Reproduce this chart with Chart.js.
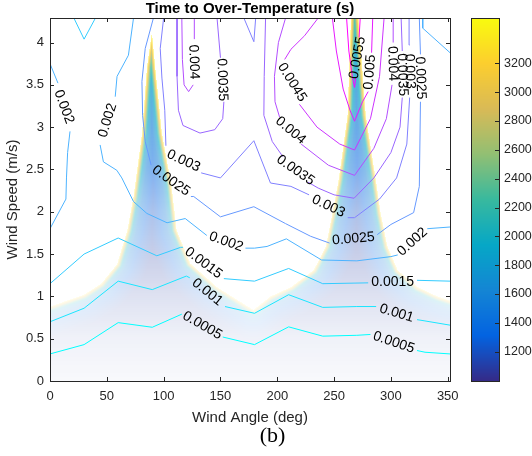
<!DOCTYPE html>
<html>
<head>
<meta charset="utf-8">
<script src="https://cdn.jsdelivr.net/npm/chart.js@4.4.1/dist/chart.umd.min.js"></script>
<style>
  html, body { margin: 0; padding: 0; background: #fff; }
</style>
</head>
<body>
<canvas id="chart" width="532" height="456"></canvas>
<script>
// axis ranges and ticks
const ANGLE_MAX = 352
const SPEED_MAX = 4.29
const ANGLE_TICKS = [0, 50, 100, 150, 200, 250, 300, 350]
const SPEED_TICKS = [0, 0.5, 1, 1.5, 2, 2.5, 3, 3.5, 4]
const TIME_MIN = 997
const TIME_MAX = 3514
const TIME_TICKS = [1200, 1400, 1600, 1800, 2000, 2200, 2400, 2600, 2800, 3000, 3200]

// edge of the finite time region: wind speed below which over-temperature is reached
const EDGE_ANGLE = [0, 30, 45, 59, 68, 73.5, 81, 85.3, 89.7, 92.6, 98.5, 107, 111.5, 123.5, 147, 179, 194, 212, 232, 242.6, 248.5, 254, 261.8, 264.7, 268, 271.7, 277.9, 286.7, 291, 297, 306, 323.5, 341, 352]
const EDGE_SPEED = [0.88, 1.02, 1.15, 1.38, 1.78, 2.18, 2.93, 3.71, 4.12, 3.71, 2.93, 2.3, 1.78, 1.39, 1.11, 0.84, 1.0, 1.11, 1.31, 1.59, 1.98, 2.38, 3.14, 4.25, 5.0, 4.25, 3.14, 2.38, 1.98, 1.59, 1.31, 1.11, 1.0, 0.95]

// time (s) versus pixel distance inside the edge, and opacity versus wind speed
const DEPTH_PX = [0, 1.5, 3, 5, 9, 16, 30]
const DEPTH_TIME = [3450, 3100, 2500, 1900, 1550, 1300, 1100]
const ALPHA_SPEED = [0, 0.5, 1, 1.5, 2, 2.5, 3, 3.5, 4.3]
const ALPHA = [0.03, 0.07, 0.15, 0.25, 0.35, 0.5, 0.62, 0.72, 0.85]

// contour segments, [angle, speed] pairs; gaps are where the labels sit
const LINE_0005 = [
  [[0, 0.32], [30, 0.43], [60, 0.69], [90, 0.635], [116, 0.79]],
  [[152, 0.52], [180, 0.43], [210, 0.64], [240, 0.53], [270, 0.54], [282, 0.55]],
  [[323, 0.36], [330, 0.34], [352, 0.32]]
]
const LINE_0010 = [
  [[0, 0.70], [30, 0.86], [60, 1.18], [90, 1.08], [120, 1.24], [123, 1.22]],
  [[154, 0.88], [180, 0.80], [210, 1.02], [240, 0.87], [270, 0.88], [287, 0.88]],
  [[323, 0.725], [330, 0.71], [352, 0.66]]
]
const LINE_0015 = [
  [[0, 1.15], [30, 1.50], [60, 1.69], [94, 1.48], [115, 1.58], [117, 1.58]],
  [[153, 1.21], [180, 1.18], [210, 1.33], [240, 1.15], [280, 1.16]],
  [[323, 1.19], [352, 1.18]],
  [[21, 4.29], [30, 4.04], [40, 4.29]]
]
const LINE_0020 = [
  [[0, 3.75], [7, 3.52]],
  [[17.6, 2.95], [15.5, 2.7], [14.5, 2.4], [14, 2.15], [0, 1.80]],
  [[73.5, 4.29], [69, 3.85], [59, 3.6], [57.4, 3.36]],
  [[44.1, 2.79], [47, 2.59], [58.8, 2.49], [63.2, 2.40], [73.5, 2.12], [85.3, 1.98], [103, 1.87], [119, 1.92], [138, 1.72]],
  [[172, 1.57], [180, 1.57], [191, 1.59], [208, 1.68], [239, 1.43], [270, 1.42], [300, 1.47], [306, 1.49]],
  [[332, 1.80], [352, 1.82]],
  [[328, 4.29], [328, 4.17], [352, 3.88]]
]
const LINE_0025 = [
  [[91, 4.29], [83.8, 3.93], [80.9, 3.54], [81.5, 3.14], [83.8, 2.83], [89, 2.55]],
  [[124, 2.18], [126.5, 2.18], [150, 1.94], [179.4, 2.06], [207.3, 1.86], [229.4, 1.71], [246, 1.63]],
  [[288, 1.73], [300, 1.85], [320, 1.99], [325, 2.3], [326, 3.3]],
  [[326, 3.86], [325, 4.29]]
]
const LINE_0030 = [
  [[100, 4.29], [97, 3.93], [98.5, 3.58], [101, 3.2], [102, 2.78]],
  [[133, 2.46], [150, 2.40], [179.4, 2.84], [194, 2.34], [212, 2.30], [228, 2.20]],
  [[262, 1.93], [268, 1.93], [290, 2.15], [305, 2.4], [314, 2.8], [316.5, 3.35]],
  [[316.5, 3.97], [316, 4.29]],
  [[170.6, 4.29], [179.4, 4.01], [181, 4.29]]
]
const LINE_0035 = [
  [[111.8, 4.29], [111.8, 3.6], [113, 3.2], [117, 3.02], [132, 2.93], [145, 2.97], [152, 3.1], [153, 3.3]],
  [[150, 3.82], [147, 4.29]],
  [[189.7, 4.29], [188.5, 3.6], [188.2, 3.14], [195.6, 2.83], [205, 2.65]],
  [[227, 2.35], [236, 2.28], [250, 2.2], [267.6, 2.16], [285, 2.4], [300, 2.7], [308, 3.0], [310, 3.35]],
  [[310, 3.9], [309, 4.29]]
]
const LINE_0040 = [
  [[116, 4.29], [116.5, 3.8], [118, 3.5], [122, 3.42], [126, 3.5]],
  [[127, 4.04], [127, 4.29]],
  [[207.3, 4.29], [201, 4.0], [197.5, 3.6], [198, 3.3], [202, 3.12]],
  [[221, 2.80], [245, 2.55], [268, 2.43], [285, 2.75], [296, 3.1], [301, 3.5]],
  [[302, 4.0], [302, 4.29]]
]
const LINE_0045 = [
  [[236, 4.29], [224, 4.08], [212, 3.92], [206.5, 3.8]],
  [[219.5, 3.27], [235, 3.0], [255, 2.8], [268, 2.73], [282, 3.1], [290, 3.6], [294, 4.29]]
]
const LINE_0050 = [
  [[248.5, 4.29], [252, 3.9], [258, 3.45], [264, 3.2], [268, 3.07], [275, 3.3], [280, 3.42]],
  [[283, 3.88], [284, 4.29]]
]
const LINE_0055 = [
  [[261, 4.29], [263, 3.9], [266, 3.6], [268, 3.47], [269, 3.58]],
  [[272, 4.06], [273, 4.29]]
]

// contour labels: text, angle, speed, rotation (deg)
const LABELS = [
  ['0.0005', 134, 0.655, 30], ['0.0005', 302.5, 0.455, 19],
  ['0.001', 138.5, 1.05, 39], ['0.001', 305, 0.80, 17],
  ['0.0015', 135, 1.395, 37], ['0.0015', 301.5, 1.17, 0],
  ['0.002', 12.3, 3.24, 70], ['0.002', 50.7, 3.08, -73], ['0.002', 155, 1.645, 20], ['0.002', 319, 1.645, -42],
  ['0.0025', 106.5, 2.365, 35], ['0.0025', 267, 1.68, -5], ['0.0025', 326, 3.58, 88],
  ['0.003', 117.5, 2.6, 25], ['0.003', 245, 2.065, 25], ['0.003', 316.5, 3.66, 88],
  ['0.0035', 151.5, 3.56, 88], ['0.0035', 216, 2.49, 35], ['0.0035', 310, 3.62, 88],
  ['0.004', 126.5, 3.77, 88], ['0.004', 211.7, 2.96, 40], ['0.004', 301.5, 3.75, 88],
  ['0.0045', 213, 3.53, 58],
  ['0.005', 281.5, 3.65, -85],
  ['0.0055', 270.6, 3.82, -80]
]

const CONTOURS = [
  [0.0005, LINE_0005], [0.001, LINE_0010], [0.0015, LINE_0015], [0.002, LINE_0020],
  [0.0025, LINE_0025], [0.003, LINE_0030], [0.0035, LINE_0035], [0.004, LINE_0040],
  [0.0045, LINE_0045], [0.005, LINE_0050], [0.0055, LINE_0055]
]

var AXIS = '#262626'
var FONT = "'Liberation Sans', Arial, sans-serif"

// parula colour stops
var PARULA = [[53, 42, 135], [3, 99, 225], [20, 133, 212], [6, 167, 198], [56, 185, 158],
  [146, 191, 115], [217, 186, 86], [252, 206, 46], [249, 251, 14]]

function interp(v, xs, ys) {
  if (v <= xs[0]) return ys[0]
  for (var i = 1; i < xs.length; i++) {
    if (v <= xs[i]) {
      var f = (v - xs[i - 1]) / (xs[i] - xs[i - 1])
      return ys[i - 1] + f * (ys[i] - ys[i - 1])
    }
  }
  return ys[ys.length - 1]
}

function parula(t) {
  t = Math.max(0, Math.min(1, t)) * (PARULA.length - 1)
  var i = Math.min(PARULA.length - 2, Math.floor(t)), f = t - i
  return [0, 1, 2].map(k => PARULA[i][k] + f * (PARULA[i + 1][k] - PARULA[i][k]))
}

// MATLAB 'cool' map across the contour levels
function coolColor(level) {
  var t = (level - 0.0005) / 0.005
  return 'rgb(' + Math.round(255 * t) + ',' + Math.round(255 * (1 - t)) + ',255)'
}

function segDist(px, py, ax, ay, bx, by) {
  var dx = bx - ax, dy = by - ay
  var l2 = dx * dx + dy * dy
  var t = l2 ? ((px - ax) * dx + (py - ay) * dy) / l2 : 0
  t = Math.max(0, Math.min(1, t))
  var ex = ax + t * dx - px, ey = ay + t * dy - py
  return Math.sqrt(ex * ex + ey * ey)
}

// shaded time field under the contours
var fieldPlugin = {
  id: 'field',
  beforeDatasetsDraw(chart) {
    var ctx = chart.ctx, ca = chart.chartArea
    var x = chart.scales.x, y = chart.scales.y
    var w = Math.round(ca.right - ca.left), h = Math.round(ca.bottom - ca.top)
    var edge = EDGE_ANGLE.map((a, i) => [x.getPixelForValue(a), y.getPixelForValue(EDGE_SPEED[i])])
    var off = document.createElement('canvas')
    off.width = w; off.height = h
    var octx = off.getContext('2d')
    var img = octx.createImageData(w, h)
    for (var j = 0; j < h; j++) {
      var py = ca.top + j + 0.5
      var s = y.getValueForPixel(py)
      var alphaS = interp(s, ALPHA_SPEED, ALPHA)
      for (var i = 0; i < w; i++) {
        var px = ca.left + i + 0.5
        var a = x.getValueForPixel(px)
        if (s > interp(a, EDGE_ANGLE, EDGE_SPEED)) continue
        var d = Infinity
        for (var k = 1; k < edge.length; k++) {
          var e0 = edge[k - 1], e1 = edge[k]
          if (Math.min(e0[0], e1[0]) - px > d || px - Math.max(e0[0], e1[0]) > d) continue
          d = Math.min(d, segDist(px, py, e0[0], e0[1], e1[0], e1[1]))
        }
        var time = interp(d, DEPTH_PX, DEPTH_TIME)
        var c = parula((time - TIME_MIN) / (TIME_MAX - TIME_MIN))
        var alpha = alphaS * (0.45 + 0.55 * Math.min(1, d / 1.5))
        var n = 4 * (j * w + i)
        img.data[n] = c[0]; img.data[n + 1] = c[1]; img.data[n + 2] = c[2]
        img.data[n + 3] = Math.round(255 * alpha)
      }
    }
    octx.putImageData(img, 0, 0)
    ctx.drawImage(off, ca.left, ca.top)
  }
}

// box, inward ticks, contour labels, colour bar, titles
var framePlugin = {
  id: 'frame',
  afterDatasetsDraw(chart) {
    var ctx = chart.ctx, ca = chart.chartArea
    var x = chart.scales.x, y = chart.scales.y, cb = chart.scales.cb

    ctx.save()
    ctx.fillStyle = '#000'
    ctx.font = '14px ' + FONT
    ctx.textAlign = 'center'
    ctx.textBaseline = 'middle'
    LABELS.forEach(l => {
      ctx.save()
      ctx.translate(x.getPixelForValue(l[1]), y.getPixelForValue(l[2]))
      ctx.rotate(l[3] * Math.PI / 180)
      ctx.fillText(l[0], 0, 0)
      ctx.restore()
    })
    ctx.restore()

    ctx.save()
    ctx.strokeStyle = AXIS
    ctx.lineWidth = 1
    ctx.strokeRect(Math.round(ca.left) + 0.5, Math.round(ca.top) + 0.5,
      Math.round(ca.right - ca.left), Math.round(ca.bottom - ca.top))
    ctx.beginPath()
    ANGLE_TICKS.forEach(v => {
      var p = Math.round(x.getPixelForValue(v)) + 0.5
      ctx.moveTo(p, ca.bottom); ctx.lineTo(p, ca.bottom - 4)
      ctx.moveTo(p, ca.top); ctx.lineTo(p, ca.top + 4)
    })
    SPEED_TICKS.forEach(v => {
      var p = Math.round(y.getPixelForValue(v)) + 0.5
      ctx.moveTo(ca.left, p); ctx.lineTo(ca.left + 4, p)
      ctx.moveTo(ca.right, p); ctx.lineTo(ca.right - 4, p)
    })
    ctx.stroke()

    // colour bar, drawn against its own scale
    var bx0 = 471, bx1 = 499
    var top = cb.getPixelForValue(TIME_MAX), bottom = cb.getPixelForValue(TIME_MIN)
    for (var py = Math.floor(top); py < Math.ceil(bottom); py++) {
      var c = parula((cb.getValueForPixel(py + 0.5) - TIME_MIN) / (TIME_MAX - TIME_MIN))
      ctx.fillStyle = 'rgb(' + c.map(Math.round).join(',') + ')'
      ctx.fillRect(bx0, py, bx1 - bx0, 1)
    }
    ctx.strokeRect(bx0 + 0.5, Math.round(top) + 0.5, bx1 - bx0, Math.round(bottom - top))
    ctx.beginPath()
    TIME_TICKS.forEach(v => {
      var p = Math.round(cb.getPixelForValue(v)) + 0.5
      ctx.moveTo(bx1, p); ctx.lineTo(bx1 - 4, p)
    })
    ctx.stroke()
    ctx.fillStyle = AXIS
    ctx.font = '12.5px ' + FONT
    ctx.textAlign = 'left'
    ctx.textBaseline = 'middle'
    TIME_TICKS.forEach(v => ctx.fillText(String(v), 504, cb.getPixelForValue(v)))

    ctx.fillStyle = '#000'
    ctx.textAlign = 'center'
    ctx.font = 'bold 15px ' + FONT
    ctx.fillText('Time to Over-Temperature (s)', (ca.left + ca.right) / 2, 8.5)
    ctx.font = "22px 'Liberation Serif', 'Times New Roman', serif"
    ctx.fillText('(b)', 272.5, 436)
    ctx.restore()
  }
}

var datasets = []
CONTOURS.forEach(([level, segs]) => {
  segs.forEach(seg => datasets.push({
    data: seg.map(p => ({ x: p[0], y: p[1] })),
    borderColor: coolColor(level),
    borderWidth: 1,
    pointRadius: 0,
    fill: false,
    tension: 0
  }))
})

var tickFont = { family: FONT, size: 13 }
var titleFont = { family: FONT, size: 15 }

new Chart(document.getElementById('chart'), {
  type: 'line',
  data: { datasets: datasets },
  options: {
    responsive: false,
    animation: false,
    layout: { padding: { top: 18, right: 0, bottom: 0, left: 0 } },
    plugins: { legend: { display: false }, tooltip: { enabled: false } },
    scales: {
      x: {
        type: 'linear', min: 0, max: ANGLE_MAX,
        afterBuildTicks: s => { s.ticks = ANGLE_TICKS.map(v => ({ value: v })) },
        afterFit: s => { s.height = 75 },
        grid: { display: false, drawTicks: false },
        border: { display: false },
        ticks: { padding: 8, color: AXIS, font: tickFont, maxRotation: 0 },
        title: { display: true, text: 'Wind Angle (deg)', color: AXIS, font: titleFont, padding: { top: 0, bottom: 29 } }
      },
      y: {
        type: 'linear', min: 0, max: SPEED_MAX,
        afterBuildTicks: s => { s.ticks = SPEED_TICKS.map(v => ({ value: v })) },
        afterFit: s => { s.width = 50 },
        grid: { display: false, drawTicks: false },
        border: { display: false },
        ticks: { padding: 6, color: AXIS, font: tickFont, callback: v => String(v) },
        title: { display: true, text: 'Wind Speed (m/s)', color: AXIS, font: titleFont, padding: { top: 3.5, bottom: 0 } }
      },
      cb: {
        type: 'linear', position: 'right', min: TIME_MIN, max: TIME_MAX,
        afterFit: s => { s.width = 82 },
        grid: { display: false, drawTicks: false },
        border: { display: false },
        ticks: { display: false }
      }
    }
  },
  plugins: [fieldPlugin, framePlugin]
})
</script>
</body>
</html>
